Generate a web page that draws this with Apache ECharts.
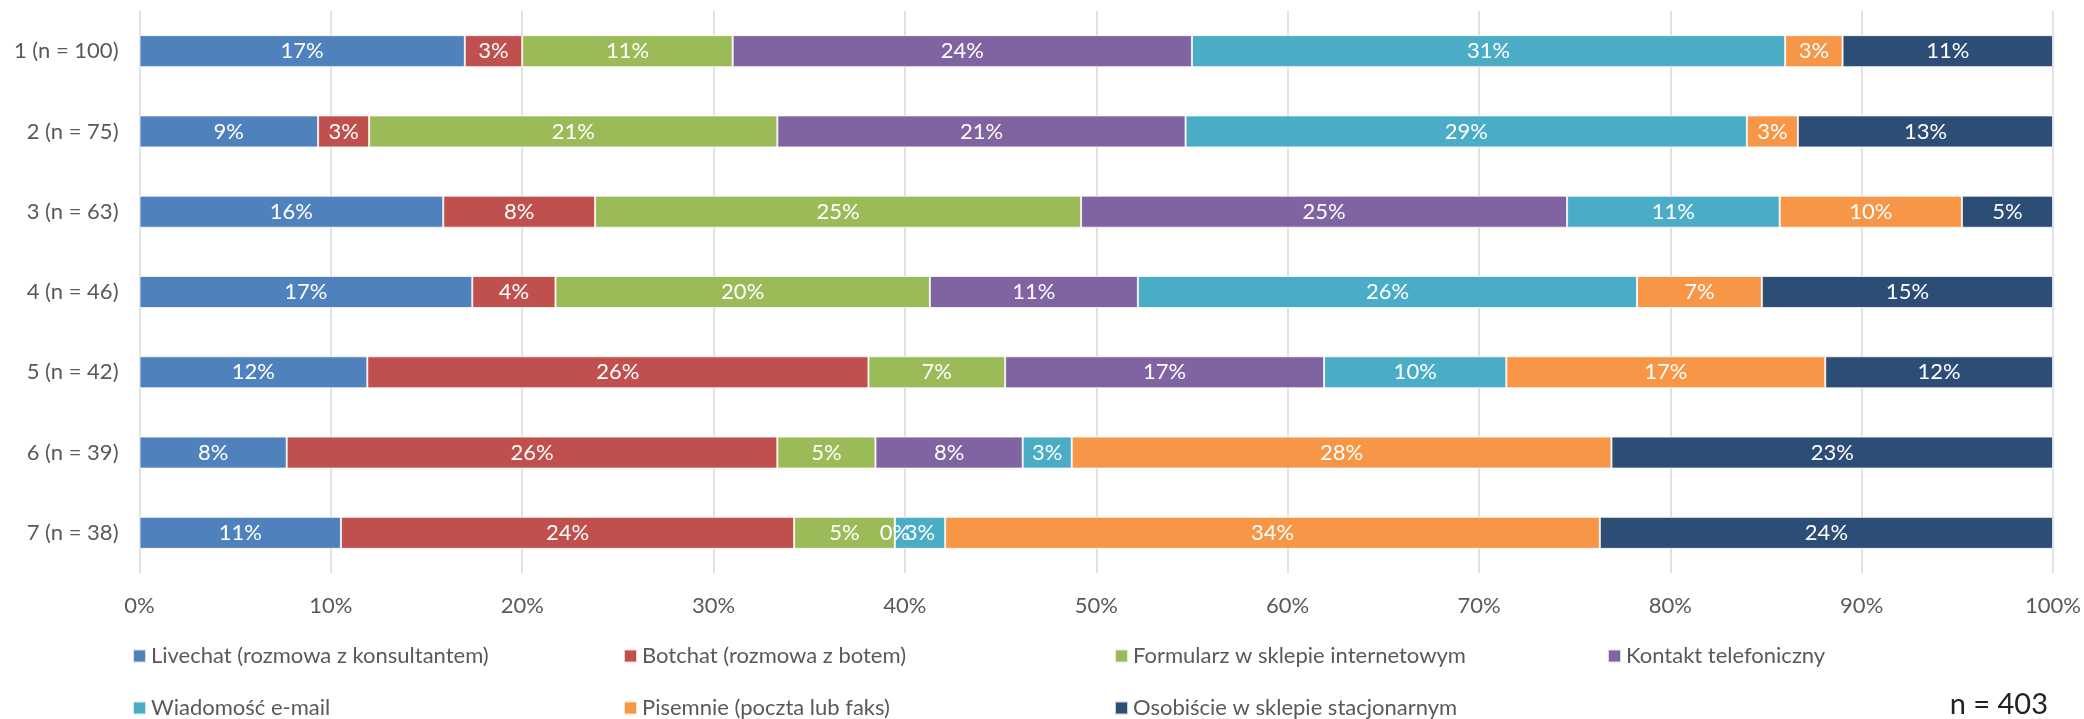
<!DOCTYPE html>
<html>
<head>
<meta charset="utf-8">
<title>Preferowane kanały kontaktu</title>
<script src="https://cdn.jsdelivr.net/npm/echarts@6/dist/echarts.min.js"></script>
<style>
  html, body { margin: 0; padding: 0; background: #fff; }
  #chart { width: 2084px; height: 719px; }
</style>
</head>
<body>
<div id="chart"></div>
<script>
// Sample size of each group (rows, top to bottom)
const sampleSizes = [100, 75, 63, 46, 42, 39, 38];

// Channel names (legend order = stacking order)
const channels = [
  'Livechat (rozmowa z konsultantem)',
  'Botchat (rozmowa z botem)',
  'Formularz w sklepie internetowym',
  'Kontakt telefoniczny',
  'Wiadomość e-mail',
  'Pisemnie (poczta lub faks)',
  'Osobiście w sklepie stacjonarnym'
];

// Number of respondents per channel in each group
const livechat  = [17,  7, 10,  8,  5,  3,  4];
const botchat   = [ 3,  2,  5,  2, 11, 10,  9];
const formularz = [11, 16, 16,  9,  3,  2,  2];
const telefon   = [24, 16, 16,  5,  7,  3,  0];
const email     = [31, 22,  7, 12,  4,  1,  1];
const pisemnie  = [ 3,  2,  6,  3,  7, 11, 13];
const osobiscie = [11, 10,  3,  7,  5,  9,  9];

const xTicks = [0, 10, 20, 30, 40, 50, 60, 70, 80, 90, 100];
const totalLabel = 'n = 403';

const colors = ['#4F81BD', '#C0504D', '#9BBB59', '#8064A2', '#4BACC6', '#F79646', '#2C4D75'];
const counts = [livechat, botchat, formularz, telefon, email, pisemnie, osobiscie];

const categories = sampleSizes.map((n, i) => `${i + 1} (n = ${n})`);

const FONT = 'Lato';
const TEXT = '#595959';

const series = channels.map((name, s) => ({
  name,
  type: 'bar',
  stack: 'total',
  barWidth: 32,
  itemStyle: { color: colors[s], borderColor: 'rgba(255,255,255,0.75)', borderWidth: 1 },
  label: {
    show: true,
    position: 'inside',
    color: '#fff',
    fontFamily: FONT,
    fontSize: 22,
    formatter: p => Math.round(p.value) + '%'
  },
  emphasis: { disabled: true },
  data: counts[s].map((c, i) => c / sampleSizes[i] * 100)
}));

// One legend block per channel, laid out in a 4-column grid
const legendLeft = [132, 623, 1114, 1607];
const legendTop = [645, 697];
const legends = channels.map((name, i) => ({
  data: [name],
  left: legendLeft[i % 4],
  top: legendTop[Math.floor(i / 4)],
  padding: 0,
  itemWidth: 13,
  itemHeight: 13,
  icon: 'rect',
  selectedMode: false,
  textStyle: { fontFamily: FONT, fontSize: 22, color: TEXT, lineHeight: 22 }
}));

const chart = echarts.init(document.getElementById('chart'), null, { renderer: 'canvas' });
chart.setOption({
  animation: false,
  color: colors,
  grid: { left: 139.5, right: 29.5, top: 11, height: 562, containLabel: false },
  xAxis: {
    type: 'value',
    min: xTicks[0],
    max: xTicks[xTicks.length - 1],
    interval: xTicks[1] - xTicks[0],
    axisLine: { show: false },
    axisTick: { show: false },
    splitLine: { show: true, lineStyle: { color: '#D9D9D9', width: 1.5 } },
    axisLabel: {
      formatter: '{value}%',
      color: TEXT,
      fontFamily: FONT,
      fontSize: 22,
      margin: 22
    }
  },
  yAxis: {
    type: 'category',
    inverse: true,
    data: categories,
    axisLine: { show: false },
    axisTick: { show: false },
    axisLabel: { color: TEXT, fontFamily: FONT, fontSize: 22, margin: 21 }
  },
  legend: legends,
  graphic: [{
    type: 'text',
    right: 36,
    top: 690,
    style: { text: totalLabel, fontFamily: FONT, fontSize: 29, fill: '#222' }
  }],
  series
});
</script>
</body>
</html>
